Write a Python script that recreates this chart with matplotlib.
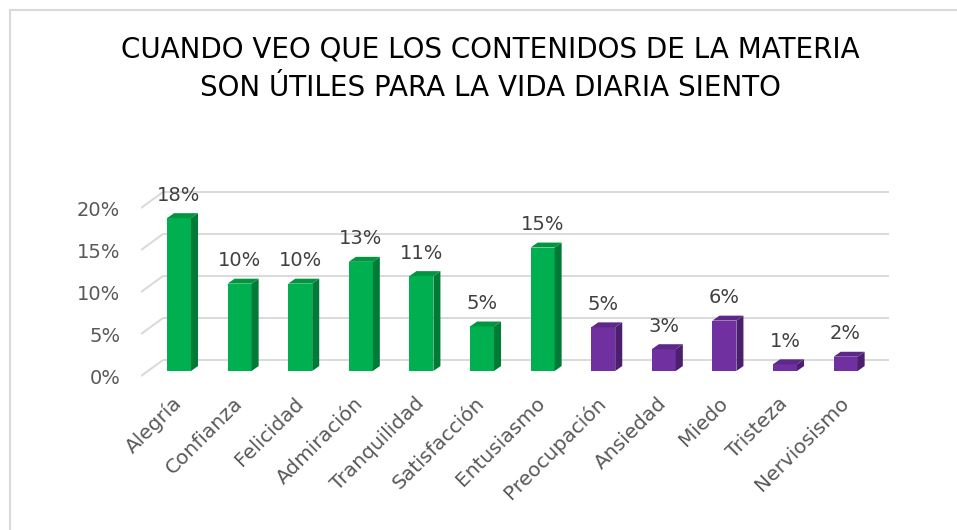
import matplotlib
matplotlib.use('Agg')
import matplotlib.pyplot as plt
from matplotlib.patches import Polygon
from matplotlib.lines import Line2D

categories = ['Alegría', 'Confianza', 'Felicidad', 'Admiración', 'Tranquilidad',
              'Satisfacción', 'Entusiasmo', 'Preocupación', 'Ansiedad', 'Miedo',
              'Tristeza', 'Nerviosismo']
values = [18.2, 10.4, 10.4, 13.0, 11.3, 5.3, 14.7, 5.2, 2.6, 6.0, 0.8, 1.7]
labels = ['18%', '10%', '10%', '13%', '11%', '5%', '15%', '5%', '3%', '6%', '1%', '2%']
positive = [True] * 7 + [False] * 5
y_ticks = [0, 5, 10, 15, 20]
y_tick_labels = ['0%', '5%', '10%', '15%', '20%']

title = 'CUANDO VEO QUE LOS CONTENIDOS DE LA MATERIA\nSON ÚTILES PARA LA VIDA DIARIA SIENTO'

# colours (front, side, top)
green = ('#00B050', '#007A37', '#00963F')
purple = ('#7030A0', '#4B1F6E', '#5E2888')

fig = plt.figure(figsize=(9.57, 5.30), dpi=100)
ax = fig.add_axes([141 / 957, (530 - 378) / 530, (889 - 141) / 957, 198 / 530])
x_min, x_max = -0.627, 11.716
ax.set_xlim(x_min, x_max)
ax.set_ylim(-0.833, 22.74)

# fake 3d walls: diagonals on the side wall, gridlines on the back wall
front_dy, back_dy = -0.6, 1.31
back_x = -0.264
for t in y_ticks:
    ax.plot([x_min, back_x], [t + front_dy, t + back_dy], color='#D9D9D9', lw=1.4, zorder=0,
            solid_capstyle='butt')
    ax.plot([back_x, x_max], [t + back_dy, t + back_dy], color='#D9D9D9', lw=1.4,
            zorder=0, solid_capstyle='butt')

w = 0.396
dx, dy = 0.116, 0.59
xs = list(range(len(categories)))
for x, v, lab, pos in zip(xs, values, labels, positive):
    front, side, top = green if pos else purple
    ax.bar(x, v, width=w, color=front, zorder=3)
    r = x + w / 2
    l = x - w / 2
    ax.add_patch(Polygon([(r, 0), (r + dx, dy), (r + dx, v + dy), (r, v)],
                         closed=True, facecolor=side, edgecolor='none', zorder=3))
    ax.add_patch(Polygon([(l, v), (r, v), (r + dx, v + dy), (l + dx, v + dy)],
                         closed=True, facecolor=top, edgecolor='none', zorder=3))
    ax.annotate(lab, xy=(x, v + dy), xytext=(0, 13), textcoords='offset points',
                ha='center', va='center', fontsize=14, color='#404040')

ax.set_yticks([t + front_dy for t in y_ticks])
ax.set_yticklabels(y_tick_labels, fontsize=14, color='#595959')
ax.set_xticks(xs)
ax.set_xticklabels(categories, rotation=45, ha='right', va='center',
                   rotation_mode='anchor', fontsize=14.5, color='#595959')
ax.tick_params(axis='y', length=0, pad=15)
ax.tick_params(axis='x', length=0, pad=16)
for s in ax.spines.values():
    s.set_visible(False)
ax.set_facecolor('none')

fig.text(0.512, 0.870, title, ha='center', va='center', fontsize=20,
         color='#000000', linespacing=1.45)

# chart frame (top and left edges visible)
fig.add_artist(Line2D([9.5 / 957, 9.5 / 957], [0, 1 - 9.5 / 530], color='#D9D9D9', lw=1.5,
                      transform=fig.transFigure))
fig.add_artist(Line2D([9.5 / 957, 1], [1 - 9.5 / 530, 1 - 9.5 / 530], color='#D9D9D9', lw=1.5,
                      transform=fig.transFigure))

fig.savefig('out.png', dpi=100)
plt.close(fig)
